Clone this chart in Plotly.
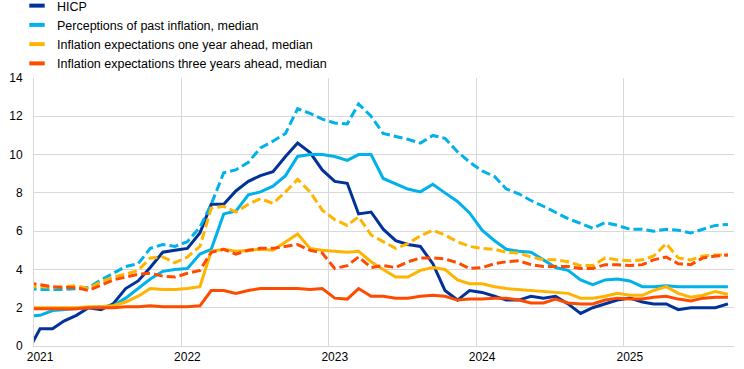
import pandas as pd
import plotly.graph_objects as go

# Monthly observations, December 2020 - September 2025
months = pd.date_range(start="2020-12-01", periods=58, freq="MS") + pd.Timedelta(days=15)

hicp = [-0.3,
        0.9, 0.9, 1.3, 1.6, 2.0, 1.9, 2.2, 3.0, 3.4, 4.1, 4.9, 5.0,
        5.1, 5.9, 7.4, 7.4, 8.1, 8.6, 8.9, 9.1, 9.9, 10.6, 10.1, 9.2,
        8.6, 8.5, 6.9, 7.0, 6.1, 5.5, 5.3, 5.2, 4.3, 2.9, 2.4, 2.9,
        2.8, 2.6, 2.4, 2.4, 2.6, 2.5, 2.6, 2.2, 1.7, 2.0, 2.2, 2.4,
        2.5, 2.3, 2.2, 2.2, 1.9, 2.0, 2.0, 2.0, 2.2]

perceptions_median = [1.55,
        1.6, 1.85, 1.9, 1.95, 2.0, 2.05, 2.1, 2.5, 3.0, 3.5, 3.9, 4.0,
        4.05, 4.8, 5.05, 6.9, 7.05, 7.9, 8.05, 8.35, 8.9, 9.9, 10.0, 10.0,
        9.9, 9.7, 10.0, 10.0, 8.75, 8.45, 8.2, 8.05, 8.45, 8.0, 7.55, 6.95,
        6.05, 5.5, 5.05, 4.95, 4.9, 4.5, 4.1, 3.95, 3.45, 3.2, 3.45, 3.5,
        3.4, 3.1, 3.1, 3.15, 3.1, 3.1, 3.1, 3.1, 3.1]

perceptions_mean = [3.0,
        2.95, 2.95, 2.95, 3.0, 3.05, 3.45, 3.8, 4.15, 4.3, 5.1, 5.3, 5.2,
        5.45, 6.2, 7.4, 9.05, 9.2, 9.6, 10.35, 10.7, 11.1, 12.4, 12.15, 11.85,
        11.65, 11.6, 12.65, 12.0, 11.1, 10.95, 10.8, 10.6, 11.0, 10.85, 10.15, 9.6,
        9.15, 8.85, 8.2, 7.95, 7.6, 7.3, 7.0, 6.65, 6.4, 6.15, 6.45, 6.3,
        6.1, 6.1, 6.0, 6.1, 6.05, 5.9, 6.1, 6.3, 6.35]

exp1y_median = [2.0,
        2.0, 2.0, 2.0, 2.0, 2.05, 2.05, 2.1, 2.3, 2.6, 3.0, 2.95, 2.95,
        3.0, 3.1, 4.95, 5.05, 4.95, 5.0, 5.05, 5.0, 5.45, 5.85, 5.1, 5.0,
        4.95, 4.9, 4.95, 4.4, 4.0, 3.6, 3.6, 3.95, 4.1, 4.0, 3.45, 3.25,
        3.25, 3.1, 3.0, 2.95, 2.9, 2.85, 2.8, 2.75, 2.5, 2.5, 2.6, 2.75,
        2.65, 2.65, 2.9, 3.1, 2.75, 2.55, 2.65, 2.85, 2.7]

exp1y_mean = [3.1,
        3.1, 3.05, 3.1, 3.15, 3.0, 3.35, 3.6, 3.75, 3.95, 4.6, 4.65, 4.35,
        4.65, 5.2, 7.2, 7.3, 7.0, 7.4, 7.7, 7.45, 8.05, 8.7, 8.05, 7.1,
        6.6, 6.3, 6.75, 5.8, 5.45, 5.1, 5.35, 5.75, 6.05, 5.8, 5.45, 5.2,
        5.1, 5.05, 4.9, 4.85, 4.65, 4.5, 4.5, 4.4, 4.2, 4.2, 4.6, 4.5,
        4.45, 4.5, 4.7, 5.35, 4.6, 4.5, 4.7, 4.75, 4.75]

exp3y_median = [1.95,
        1.95, 1.95, 1.95, 1.95, 2.0, 2.0, 2.0, 2.05, 2.05, 2.1, 2.05, 2.05,
        2.05, 2.1, 2.9, 2.9, 2.75, 2.9, 3.0, 3.0, 3.0, 3.0, 2.95, 3.0,
        2.5, 2.45, 3.0, 2.6, 2.6, 2.5, 2.5, 2.6, 2.65, 2.6, 2.4, 2.45,
        2.45, 2.5, 2.5, 2.4, 2.25, 2.25, 2.45, 2.25, 2.2, 2.2, 2.4, 2.5,
        2.45, 2.45, 2.55, 2.6, 2.45, 2.35, 2.5, 2.55, 2.55]

exp3y_mean = [3.3,
        3.2, 3.1, 3.05, 3.05, 2.9, 3.2, 3.45, 3.6, 3.75, 3.8, 3.65, 3.6,
        3.8, 3.95, 4.9, 5.05, 4.8, 5.0, 5.1, 5.1, 5.2, 5.3, 5.0, 4.85,
        4.05, 4.2, 4.65, 4.1, 4.2, 4.1, 4.4, 4.6, 4.6, 4.55, 4.35, 4.05,
        4.1, 4.3, 4.4, 4.45, 4.25, 4.15, 4.15, 4.15, 4.05, 4.05, 4.25, 4.25,
        4.2, 4.25, 4.5, 4.65, 4.3, 4.25, 4.6, 4.7, 4.75]

legend_labels = ["HICP",
                 "Perceptions of past inflation, median",
                 "Inflation expectations one year ahead, median",
                 "Inflation expectations three years ahead, median"]
years = [2021, 2022, 2023, 2024, 2025]

DARK_BLUE = "#003299"
LIGHT_BLUE = "#00B1EA"
YELLOW = "#FFB400"
ORANGE = "#FF4B00"
GRID = "#d9d9d9"
FONT = "Liberation Sans, Arial, sans-serif"

fig = go.Figure()

solid = [(hicp, DARK_BLUE), (perceptions_median, LIGHT_BLUE),
         (exp1y_median, YELLOW), (exp3y_median, ORANGE)]
dashed = [(perceptions_mean, LIGHT_BLUE), (exp1y_mean, YELLOW), (exp3y_mean, ORANGE)]

for vals, col in solid:
    fig.add_trace(go.Scatter(x=months, y=vals, mode="lines", showlegend=False,
                             line=dict(color=col, width=3), hoverinfo="skip"))
for vals, col in dashed:
    fig.add_trace(go.Scatter(x=months, y=vals, mode="lines", showlegend=False,
                             line=dict(color=col, width=3, dash="9px,4px"), hoverinfo="skip"))

# legend-only entries (short thick bars as in the original)
for name, col in zip(legend_labels, [DARK_BLUE, LIGHT_BLUE, YELLOW, ORANGE]):
    fig.add_trace(go.Scatter(x=[None], y=[None], mode="markers", name=name,
                             marker=dict(symbol="line-ew", size=11, color=col,
                                         line=dict(color=col, width=4))))

fig.update_layout(
    width=744, height=369,
    margin=dict(l=34, r=10, t=78, b=23, autoexpand=False),
    paper_bgcolor="white", plot_bgcolor="white",
    font=dict(family=FONT, size=12, color="#000000"),
    legend=dict(x=-17/700, y=1 + 87/268,
                xanchor="left", yanchor="top", bgcolor="rgba(0,0,0,0)",
                font=dict(family=FONT, size=12.5, color="#000000"),
                itemwidth=30, tracegroupgap=0),
    xaxis=dict(
        type="date",
        range=["2021-01-01", "2025-10-01"],
        tickmode="array",
        tickvals=[f"{y}-01-16" for y in years],
        ticktext=[str(y) for y in years],
        showgrid=False, zeroline=False,
        ticks="", showline=True, linecolor=GRID, linewidth=1,
        minor=dict(tickmode="array", tickvals=[f"{y}-01-01" for y in years],
                   showgrid=True, gridcolor=GRID, gridwidth=1, ticks=""),
        tickfont=dict(family=FONT, size=12, color="#000000"),
        fixedrange=True,
    ),
    yaxis=dict(
        range=[0, 14], dtick=2, tick0=0,
        showgrid=True, gridcolor=GRID, gridwidth=1,
        zeroline=False, showline=True, linecolor=GRID, linewidth=1,
        ticks="", ticklabelstandoff=8,
        tickfont=dict(family=FONT, size=12, color="#000000"),
        fixedrange=True,
    ),
)

fig.write_html("out.html", config={"displayModeBar": False},
               post_script="document.body.style.margin='0px';")
